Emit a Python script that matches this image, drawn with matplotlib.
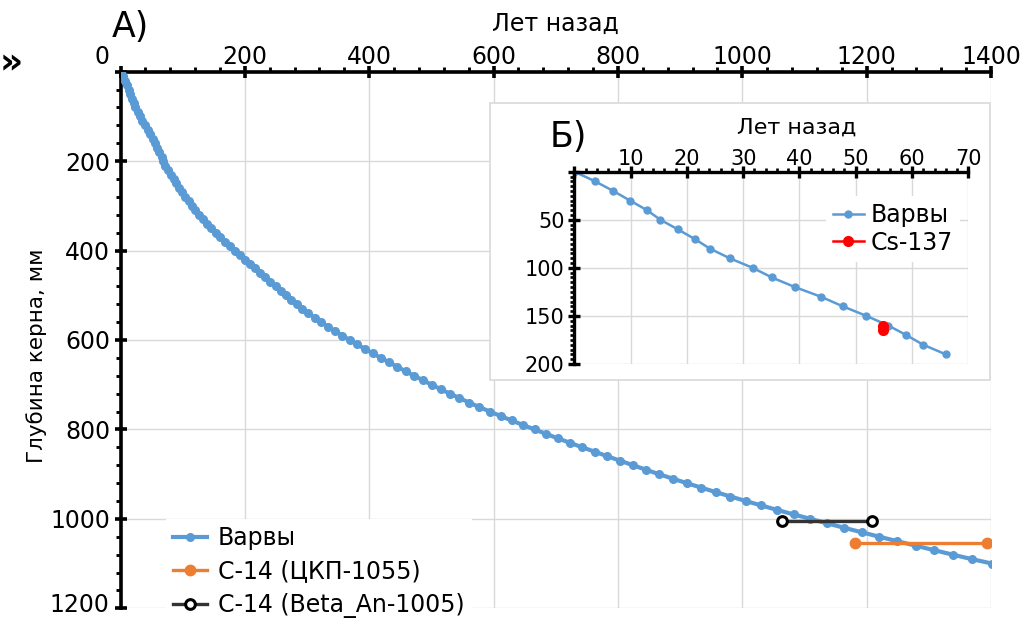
import matplotlib
matplotlib.use("Agg")
import matplotlib.pyplot as plt
from matplotlib.patches import Rectangle
from matplotlib.ticker import MultipleLocator

plt.rcParams["font.family"] = ["DejaVu Sans"]

BLUE, ORANGE, RED, GRID = "#5b9bd5", "#ed7d31", "#ff0000", "#d9d9d9"
W, H = 1036, 620

# varve chronology, depth (mm) vs age (years ago)
varve_depth = [0, 10, 20, 30, 40, 50, 60, 70, 80, 90,
               100, 110, 120, 130, 140, 150, 160, 170, 180, 190,
               200, 210, 220, 230, 240, 250, 260, 270, 280, 290,
               300, 310, 320, 330, 340, 350, 360, 370, 380, 390,
               400, 410, 420, 430, 440, 450, 460, 470, 480, 490,
               500, 510, 520, 530, 540, 550, 560, 570, 580, 590,
               600, 610, 620, 630, 640, 650, 660, 670, 680, 690,
               700, 710, 720, 730, 740, 750, 760, 770, 780, 790,
               800, 810, 820, 830, 840, 850, 860, 870, 880, 890,
               900, 910, 920, 930, 940, 950, 960, 970, 980, 990,
               1000, 1010, 1020, 1030, 1040, 1050, 1060, 1070, 1080, 1090,
               1100]
varve_age = [0, 3.7, 6.9, 9.9, 12.9, 15.3, 18.4, 21.4, 24.1, 27.6,
             31.7, 35.1, 39.2, 43.8, 47.7, 51.9, 55.8, 59.0, 62.0, 66.0,
             68.0, 72.2, 76.5, 80.9, 85.4, 90.0, 94.7, 99.5, 104.4, 109.4,
             114.5, 120.2, 126.2, 132.5, 139.1, 146.0, 153.2, 160.7, 168.5, 176.5,
             184.6, 192.6, 200.6, 208.7, 216.8, 224.9, 233.0, 241.2, 249.4, 257.6,
             265.9, 274.4, 283.3, 292.6, 302.3, 312.4, 322.8, 333.7, 344.9, 356.6,
             368.6, 380.8, 393.2, 405.9, 418.8, 431.9, 445.2, 458.7, 472.4, 486.3,
             500.4, 514.9, 529.8, 545.1, 560.8, 577.1, 594.0, 611.3, 629.0, 647.2,
             665.9, 684.5, 703.5, 722.9, 742.7, 762.9, 783.1, 803.5, 824.1, 844.9,
             865.9, 888.0, 910.5, 933.5, 957.0, 981.0, 1005.5, 1030.5, 1056.0, 1082.5,
             1109.5, 1136.5, 1164.0, 1192.0, 1220.5, 1249.5, 1279.0, 1308.5, 1338.5, 1369.0,
             1402.0]
n_inset = 20  # inset shows the upper 190 mm

ckp_age, ckp_depth = [1181, 1393], [1055, 1055]
beta_age, beta_depth = [1064, 1209], [1005, 1005]
cs_age, cs_depth = [54.9, 54.9], [160, 165]

main_xticks = [0, 200, 400, 600, 800, 1000, 1200, 1400]
main_yticks = [0, 200, 400, 600, 800, 1000, 1200]
inset_xticks = [0, 10, 20, 30, 40, 50, 60, 70]
inset_yticks = [0, 50, 100, 150, 200]


def style(ax, lw, maj, mnr, size):
    for s in ("right", "bottom"):
        ax.spines[s].set_visible(False)
    for s in ("top", "left"):
        ax.spines[s].set_linewidth(lw)
    ax.xaxis.tick_top()
    ax.tick_params(which="major", direction="inout", length=maj, width=lw,
                   labelsize=size, top=True, bottom=False, left=True, right=False)
    ax.tick_params(which="minor", direction="out", length=mnr, width=lw * 0.8,
                   top=True, bottom=False, left=True, right=False)
    ax.grid(True, which="major", color=GRID, lw=1)
    ax.set_axisbelow(True)


fig = plt.figure(figsize=(W / 100, H / 100), dpi=100)

# ---- main panel
ax = fig.add_axes([120.5 / W, 1 - 608.3 / H, 870.5 / W, 536.6 / H])
ax.plot(varve_age, varve_depth, "-o", color=BLUE, lw=3, ms=5.5, label="Варвы", zorder=3)
ax.plot(ckp_age, ckp_depth, "-o", color=ORANGE, lw=2.4, ms=7.5, label="С-14 (ЦКП-1055)", zorder=4)
ax.plot(beta_age, beta_depth, "-o", color="#333333", mec="black", mfc="white", mew=2.2,
        lw=2.4, ms=7, label="С-14 (Beta_An-1005)", zorder=4)
ax.set_xlim(0, 1400)
ax.set_ylim(1200, 0)
style(ax, 2.6, 9, 3.5, 17)
# end labels (0 on x, 1200 on y) are placed by hand below
ax.set_xticks(main_xticks, [""] + [str(t) for t in main_xticks[1:]])
ax.set_yticks(main_yticks, [""] + [str(t) for t in main_yticks[1:-1]] + [""])
ax.xaxis.set_minor_locator(MultipleLocator(40))
ax.yaxis.set_minor_locator(MultipleLocator(40))
ax.tick_params(axis="x", which="major", pad=-2.8)
ax.tick_params(axis="y", which="major", pad=3)
ax.legend(loc="upper left", bbox_to_anchor=(166 / W, 1 - 519 / H), bbox_transform=fig.transFigure,
          fontsize=17, facecolor="white", edgecolor="none", framealpha=1, fancybox=False,
          borderpad=0.3, labelspacing=0.4, handlelength=1.45, handletextpad=0.45, borderaxespad=0)

fig.text(102 / W, 1 - 57 / H, "0", fontsize=17, ha="center", va="center")
fig.text(109 / W, 1 - 605 / H, str(main_yticks[-1]), fontsize=17, ha="right", va="center")
fig.text(555 / W, 1 - 24 / H, "Лет назад", fontsize=17, ha="center", va="center")
fig.text(37 / W, 1 - 356 / H, "Глубина керна, мм", fontsize=15.5, rotation=90, ha="center", va="center")
fig.text(130 / W, 1 - 27 / H, "А)", fontsize=25, ha="center", va="center")
fig.text(11 / W, 1 - 63 / H, "»", fontsize=26, fontweight="bold", ha="center", va="center")

# ---- inset panel
fig.add_artist(Rectangle((490 / W, 1 - 380 / H), 500 / W, 277 / H, transform=fig.transFigure,
                         fc="white", ec=GRID, lw=1.2, zorder=2))
axin = fig.add_axes([574.3 / W, 1 - 364 / H, 394 / W, 192.3 / H], zorder=3)
axin.patch.set_alpha(0)
axin.plot(varve_age[:n_inset], varve_depth[:n_inset], "-o", color=BLUE, lw=1.8, ms=5, label="Варвы")
axin.plot(cs_age, cs_depth, "-o", color=RED, lw=1.8, ms=7, label="Cs-137")
axin.set_xlim(0, 70)
axin.set_ylim(200, 0)
style(axin, 2.4, 8, 3, 15)
axin.set_xticks(inset_xticks, [""] + [str(t) for t in inset_xticks[1:]])
axin.set_yticks(inset_yticks, [""] + [str(t) for t in inset_yticks[1:]])
axin.xaxis.set_minor_locator(MultipleLocator(2))
axin.yaxis.set_minor_locator(MultipleLocator(5))
axin.tick_params(axis="x", which="major", pad=-2)
axin.tick_params(axis="y", which="major", pad=3)
axin.legend(loc="upper left", bbox_to_anchor=(826 / W, 1 - 196 / H), bbox_transform=fig.transFigure,
            fontsize=17, facecolor="white", edgecolor="none", framealpha=1, fancybox=False,
            borderpad=0.3, labelspacing=0.15, handlelength=1.3, handletextpad=0.3, borderaxespad=0)

fig.text(797 / W, 1 - 128 / H, "Лет назад", fontsize=16, ha="center", va="center")
fig.text(568 / W, 1 - 137 / H, "Б)", fontsize=25, ha="center", va="center")

fig.savefig("out.png", dpi=100)
